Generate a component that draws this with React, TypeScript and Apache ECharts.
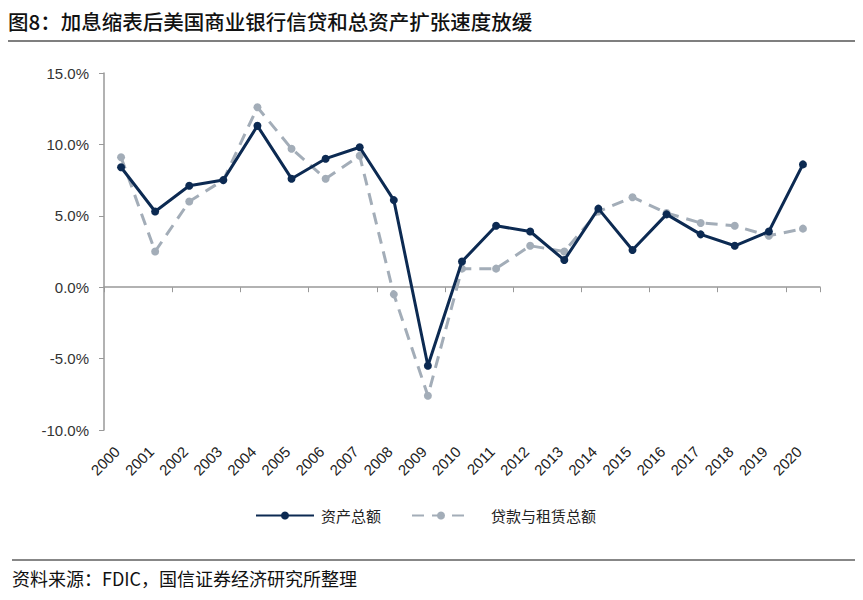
import React, { useEffect, useRef } from "react";
import * as echarts from "echarts";

const years = ["2000","2001","2002","2003","2004","2005","2006","2007","2008","2009","2010","2011","2012","2013","2014","2015","2016","2017","2018","2019","2020"];
const totalAssets = [8.4, 5.3, 7.1, 7.5, 11.3, 7.6, 9.0, 9.8, 6.1, -5.5, 1.8, 4.3, 3.9, 1.9, 5.5, 2.6, 5.1, 3.7, 2.9, 3.9, 8.6];
const loansLeases = [9.1, 2.5, 6.0, 7.5, 12.6, 9.7, 7.6, 9.2, -0.5, -7.6, 1.3, 1.3, 2.9, 2.5, 5.3, 6.3, 5.2, 4.5, 4.3, 3.6, 4.1];
const seriesNames = ["资产总额", "贷款与租赁总额"];
const titleText = "图8：加息缩表后美国商业银行信贷和总资产扩张速度放缓";
const sourceText = "资料来源：FDIC，国信证券经济研究所整理";

export default function App() {
  const ref = useRef<HTMLDivElement>(null);
  useEffect(() => {
    const chart = echarts.init(ref.current!, null, { renderer: "svg" });
    const dark = "#0c2a52";
    const gray = "#a3adb8";
    chart.setOption({
      animation: false,
      backgroundColor: "#fff",
      textStyle: { fontFamily: "Liberation Sans, Arial, Noto Sans CJK SC, sans-serif" },
      grid: { left: 104, right: 43, top: 73, bottom: 170, containLabel: false },
      graphic: [
        { type: "text", left: 8, top: 11, style: { text: titleText, font: "500 20.5px 'Noto Sans CJK SC', sans-serif", fill: "#111" } },
        { type: "line", shape: { x1: 8, y1: 41, x2: 855, y2: 41 }, style: { stroke: "#555", lineWidth: 1.5 } },
        { type: "line", shape: { x1: 12, y1: 560, x2: 855, y2: 560 }, style: { stroke: "#111", lineWidth: 1.2 } },
        { type: "text", left: 12, top: 569, style: { text: sourceText, font: "18px 'Noto Sans CJK SC', sans-serif", fill: "#111" } },
      ],
      legend: {
        top: 503,
        left: 250,
        itemGap: 30,
        itemWidth: 58,
        itemHeight: 10,
        textStyle: { fontSize: 15, color: "#222", fontFamily: "Noto Sans CJK SC" },
        data: [
          { name: seriesNames[0], textStyle: { padding: [0, 0, 0, 2] } },
          { name: seriesNames[1], textStyle: { padding: [0, 0, 0, 16] } },
        ],
      },
      xAxis: {
        type: "category",
        data: years,
        boundaryGap: true,
        position: "bottom",
        axisLine: { onZero: true, lineStyle: { color: "#999", width: 1.5 } },
        axisTick: { show: true, length: 5, alignWithLabel: false, lineStyle: { color: "#999" } },
        axisLabel: { show: false },
      },
      yAxis: {
        type: "value",
        min: -10,
        max: 15,
        interval: 5,
        splitLine: { show: false },
        axisLine: { show: true, lineStyle: { color: "#999", width: 1.5 } },
        axisTick: { show: true, length: 5, lineStyle: { color: "#999" } },
        axisLabel: { formatter: (v: number) => v.toFixed(1) + "%", fontSize: 15, color: "#333", margin: 15 },
      },
      series: [
        {
          name: seriesNames[0],
          type: "line",
          data: totalAssets,
          z: 3,
          symbol: "circle",
          symbolSize: 8,
          lineStyle: { color: dark, width: 3 },
          itemStyle: { color: dark },
        },
        {
          name: seriesNames[1],
          type: "line",
          data: loansLeases,
          z: 2,
          symbol: "circle",
          symbolSize: 8,
          lineStyle: { color: gray, width: 3, type: [12, 8] },
          itemStyle: { color: gray },
        },
      ],
    });
    // rotated year labels placed by the axis scale
    const labels = years.map((y, i) => {
      const pt = chart.convertToPixel({ gridIndex: 0 }, [i, -10]) as number[];
      return {
        id: "yl" + i,
        type: "text",
        x: pt[0] - 4,
        y: pt[1] + 19,
        rotation: Math.PI / 4,
        style: { text: y, font: "15px 'Liberation Sans', Arial, sans-serif", fill: "#222", align: "right", verticalAlign: "middle" },
      };
    });
    chart.setOption({ graphic: labels });
    return () => chart.dispose();
  }, []);
  return <div ref={ref} style={{ width: 863, height: 600, position: "absolute", left: 0, top: 0 }} />;
}
